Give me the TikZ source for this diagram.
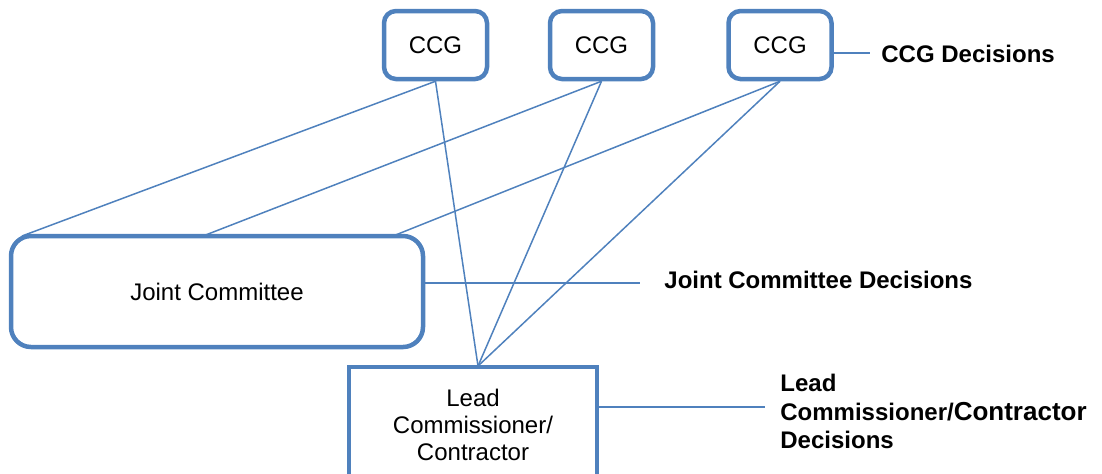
\documentclass[tikz,border=0pt]{standalone}
\usepackage{fontspec}
\setmainfont{Liberation Sans}
\definecolor{boxblue}{RGB}{79,129,189}
\begin{document}
\begin{tikzpicture}[x=0.5pt,y=-0.5pt,
    ccgbox/.style={draw=boxblue,line width=2.25pt,rounded corners=6pt,minimum width=51.5pt,minimum height=34pt,inner sep=0pt,font=\fontsize{12}{14}\selectfont},
    link/.style={draw=boxblue,line width=0.75pt},
    decision/.style={anchor=west,inner sep=0pt,align=left,font=\fontsize{12}{14.25}\selectfont\bfseries}]
    \useasboundingbox (0,0) rectangle (1102,473);
    \clip (0,0) rectangle (1102,473);

    \node[ccgbox] (ccg1) at (435.5,45) {CCG};
    \node[ccgbox] (ccg2) at (601.5,45) {CCG};
    \node[ccgbox] (ccg3) at (780,45) {CCG};

    \node[draw=boxblue,line width=2.25pt,rounded corners=10pt,minimum width=206pt,minimum height=55.5pt,font=\fontsize{12}{14}\selectfont] (jc) at (217,291.5) {Joint Committee};
    \node[draw=boxblue,line width=2.25pt,minimum width=124pt,minimum height=58pt,align=center,font=\fontsize{12}{13.5}\selectfont] (lead) at (473,425) {Lead\\Commissioner/\\Contractor};

    \coordinate (j1) at (22,236);
    \coordinate (j2) at (203,236);
    \coordinate (j3) at (393,236);
    \coordinate (apex) at (478,366);

    \draw[link] (ccg1.south) -- (j1);
    \draw[link] (ccg2.south) -- (j2);
    \draw[link] (ccg3.south) -- (j3);
    \draw[link] (ccg1.south) -- (apex);
    \draw[link] (ccg2.south) -- (apex);
    \draw[link] (ccg3.south) -- (apex);

    \node[decision] (ccgdec) at (881,54) {CCG Decisions};
    \node[decision] (jcdec) at (664,280) {Joint Committee Decisions};
    \node[decision] (leaddec) at (780,411.5) {Lead\\Commissioner/{\fontsize{13}{14.25}\selectfont Contractor}\\Decisions};

    % side lines to the decision labels
    \coordinate (c3out) at (833,53);
    \coordinate (c3end) at (870,53);
    \coordinate (jcout) at (424,283);
    \coordinate (jcend) at (640,283);
    \coordinate (leadout) at (598,407);
    \coordinate (leadend) at (765,407);
    \draw[link] (c3out) -- (c3end);
    \draw[link] (jcout) -- (jcend);
    \draw[link] (leadout) -- (leadend);
\end{tikzpicture}
\end{document}
